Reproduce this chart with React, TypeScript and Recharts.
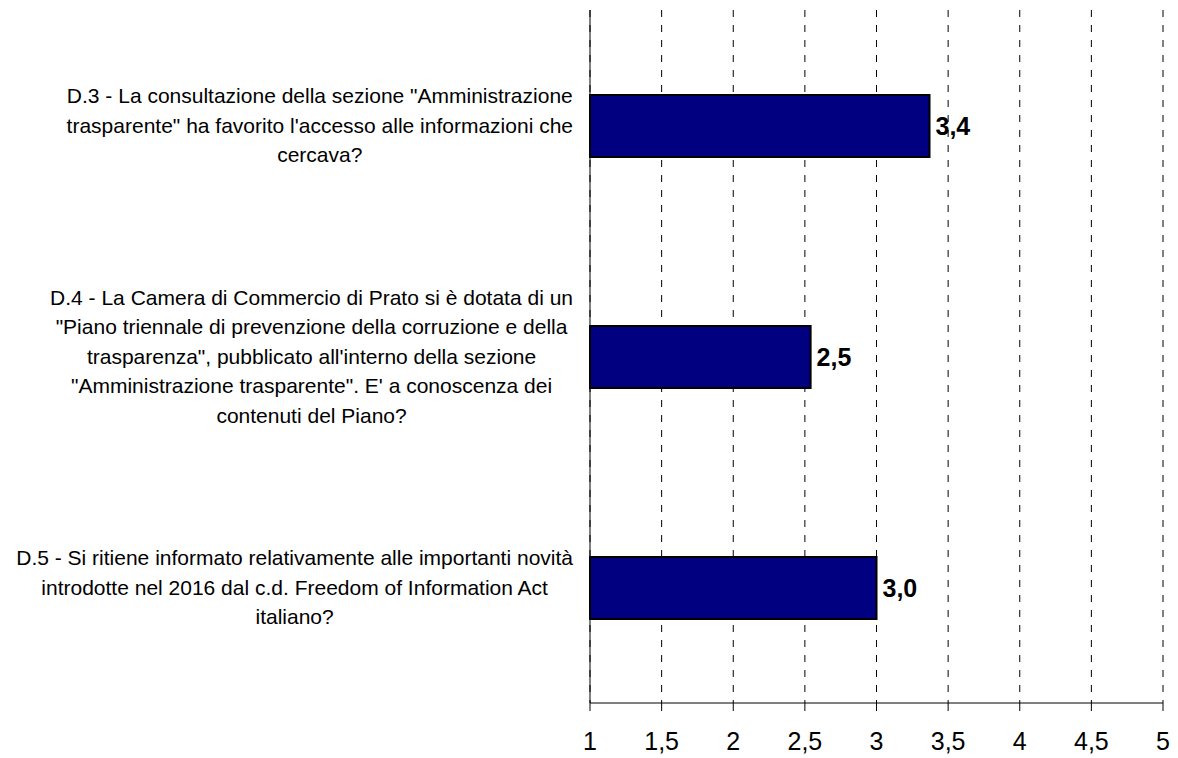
import React from "react";
import {
  BarChart,
  Bar,
  XAxis,
  YAxis,
  CartesianGrid,
  LabelList,
} from "recharts";

const questions: string[][] = [
  [
    'D.3 - La consultazione della sezione "Amministrazione',
    'trasparente" ha favorito l\'accesso alle informazioni che',
    "cercava?",
  ],
  [
    "D.4 - La Camera di Commercio di Prato si è dotata di un",
    '"Piano triennale di prevenzione della corruzione e della',
    'trasparenza", pubblicato all\'interno della sezione',
    '"Amministrazione trasparente". E\' a conoscenza dei',
    "contenuti del Piano?",
  ],
  [
    "D.5 - Si ritiene informato relativamente alle importanti novità",
    "introdotte nel 2016 dal c.d. Freedom of Information Act",
    "italiano?",
  ],
];
const scores = [3.37, 2.54, 3.0];
const xTicks = [1, 1.5, 2, 2.5, 3, 3.5, 4, 4.5, 5];
const edgeTicks = [0, 1, 2, 3];

const data = questions.map((lines, i) => ({
  name: "D" + (i + 3),
  lines,
  value: scores[i],
}));

const FONT = "'Liberation Sans', Arial, sans-serif";
const LABEL_SIZE = 21;
const LINE_H = 29.5;

let ctx: CanvasRenderingContext2D | null = null;
function textWidth(s: string) {
  if (!ctx) {
    ctx = document.createElement("canvas").getContext("2d");
  }
  if (!ctx) return s.length * LABEL_SIZE * 0.45;
  ctx.font = `${LABEL_SIZE}px ${FONT}`;
  return ctx.measureText(s).width;
}

function QuestionTick(props: any) {
  const { x, y, payload } = props;
  const row = data.find((d) => d.name === payload.value);
  if (!row) return null;
  const lines = row.lines;
  const blockW = Math.max(...lines.map(textWidth));
  const cx = x - 16 - blockW / 2;
  const top = y - ((lines.length - 1) * LINE_H) / 2;
  return (
    <g>
      {lines.map((l, i) => (
        <text
          key={i}
          x={cx}
          y={top + i * LINE_H}
          dy="0.35em"
          textAnchor="middle"
          fontSize={LABEL_SIZE}
          fontFamily={FONT}
          fill="#000"
        >
          {l}
        </text>
      ))}
    </g>
  );
}

const comma = (v: number) => String(v).replace(".", ",");

export default function App() {
  return (
    <div style={{ position: "absolute", left: 0, top: 0, background: "#fff" }}>
      <BarChart
        width={1178}
        height={758}
        data={data}
        layout="vertical"
        margin={{ top: 10, right: 15, bottom: 0, left: 0 }}
      >
        <CartesianGrid
          horizontal={false}
          stroke="#000"
          strokeDasharray="7 8"
          yAxisId="zcat"
        />
        <XAxis
          type="number"
          domain={[1, 5]}
          ticks={xTicks}
          interval={0}
          height={55}
          tickSize={8}
          tickMargin={21}
          tickFormatter={comma}
          axisLine={{ stroke: "#000" }}
          tickLine={{ stroke: "#000" }}
          tick={{ fontSize: 25, fontFamily: FONT, fill: "#000" }}
        />
        <YAxis
          yAxisId="aedges"
          type="number"
          domain={[0, 3]}
          allowDataOverflow
          ticks={edgeTicks}
          interval={0}
          reversed
          width={1}
          tickSize={7}
          tick={false}
          axisLine={{ stroke: "#000" }}
          tickLine={{ stroke: "#000" }}
        />
        <YAxis
          yAxisId="zcat"
          type="category"
          dataKey="name"
          width={589}
          axisLine={false}
          tickLine={false}
          tickSize={0}
          tickMargin={0}
          tick={<QuestionTick />}
        />
        <Bar
          yAxisId="zcat"
          dataKey="value"
          fill="#000080"
          stroke="#000"
          strokeWidth={2}
          barSize={62}
          isAnimationActive={false}
        >
          <LabelList
            dataKey="value"
            position="right"
            offset={6}
            formatter={(v: any) => Number(v).toFixed(1).replace(".", ",")}
            style={{ fontSize: 25, fontWeight: "bold", fontFamily: FONT, fill: "#000" }}
          />
        </Bar>
      </BarChart>
    </div>
  );
}
